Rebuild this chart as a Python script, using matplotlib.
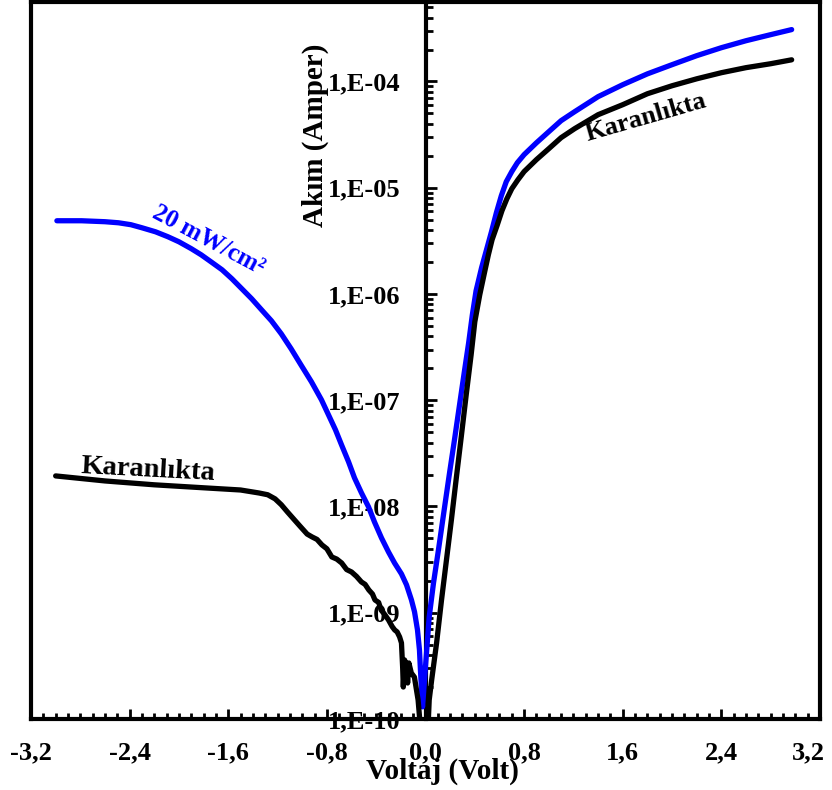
import numpy as np
import matplotlib
matplotlib.use("Agg")
import matplotlib.pyplot as plt
from matplotlib.ticker import FixedLocator, MultipleLocator, LogLocator, NullFormatter
from matplotlib.lines import Line2D
from matplotlib.transforms import ScaledTranslation

# ---------------- data ----------------
# Light (20 mW/cm^2) measurement
v_light = [-2.99, -2.79, -2.60, -2.49, -2.39, -2.30, -2.19, -2.09, -2.00, -1.90,
           -1.82, -1.74, -1.65, -1.57, -1.49, -1.41, -1.33, -1.25, -1.17, -1.09,
           -1.01, -0.925, -0.844, -0.787, -0.730, -0.681, -0.624, -0.576, -0.519,
           -0.462, -0.414, -0.357, -0.300, -0.251, -0.195, -0.154, -0.114, -0.089,
           -0.065, -0.049, -0.041, -0.032, -0.024, -0.01, 0.01, 0.03, 0.065, 0.105,
           0.155, 0.195, 0.235, 0.275, 0.315, 0.35, 0.38, 0.41, 0.455, 0.495,
           0.535, 0.575, 0.615, 0.655, 0.70, 0.745, 0.80, 0.90, 1.0, 1.10, 1.21,
           1.40, 1.60, 1.80, 2.0, 2.2, 2.4, 2.6, 2.8, 2.97]
i_light = [4.89e-6, 4.89e-6, 4.79e-6, 4.68e-6, 4.49e-6, 4.20e-6, 3.85e-6, 3.46e-6,
           3.10e-6, 2.67e-6, 2.34e-6, 2.01e-6, 1.69e-6, 1.39e-6, 1.12e-6, 9.02e-7,
           7.10e-7, 5.60e-7, 4.22e-7, 3.05e-7, 2.15e-7, 1.49e-7, 1.01e-7, 7.29e-8,
           5.26e-8, 3.80e-8, 2.63e-8, 1.86e-8, 1.34e-8, 9.91e-9, 7.16e-9, 5.06e-9,
           3.73e-9, 2.94e-9, 2.32e-9, 1.83e-9, 1.32e-9, 1.02e-9, 6.89e-10,
           4.47e-10, 2.89e-10, 1.88e-10, 1.30e-10, 2.18e-10, 4.47e-10, 9.13e-10,
           1.91e-9, 3.90e-9, 9.91e-9, 2.07e-8, 4.24e-8, 8.86e-8, 1.85e-7, 3.47e-7,
           6.37e-7, 1.07e-6, 1.77e-6, 2.61e-6, 3.85e-6, 5.82e-6, 8.41e-6, 1.14e-5,
           1.42e-5, 1.72e-5, 2.05e-5, 2.65e-5, 3.37e-5, 4.28e-5, 5.20e-5, 7.20e-5,
           9.33e-5, 1.18e-4, 1.44e-4, 1.75e-4, 2.08e-4, 2.42e-4, 2.76e-4, 3.08e-4]

# Dark (Karanlıkta) measurement
v_dark = [-3.0, -2.6, -2.2, -1.8, -1.5, -1.35, -1.28, -1.22, -1.17, -1.12, -1.07,
          -1.02, -0.96, -0.92, -0.88, -0.84, -0.80, -0.76, -0.72, -0.68, -0.64,
          -0.60, -0.56, -0.52, -0.49, -0.46, -0.43, -0.41, -0.38, -0.36, -0.33,
          -0.30, -0.27, -0.25, -0.23, -0.21, -0.195, -0.185, -0.18, -0.17,
          -0.155, -0.145, -0.135, -0.115, -0.09, -0.06, -0.04, 0.0, 0.02, 0.03,
          0.05, 0.09, 0.13, 0.17, 0.21, 0.25, 0.29, 0.33, 0.37, 0.40, 0.44,
          0.48, 0.51, 0.54, 0.58, 0.62, 0.66, 0.70, 0.75, 0.80, 0.90, 1.0, 1.10,
          1.21, 1.40, 1.60, 1.80, 2.0, 2.2, 2.4, 2.6, 2.8, 2.97]
i_dark = [1.94e-8, 1.74e-8, 1.60e-8, 1.50e-8, 1.43e-8, 1.34e-8, 1.29e-8, 1.18e-8,
          1.04e-8, 8.89e-9, 7.64e-9, 6.57e-9, 5.5e-9, 5.17e-9, 4.9e-9, 4.35e-9,
          4.0e-9, 3.35e-9, 3.2e-9, 2.94e-9, 2.55e-9, 2.42e-9, 2.2e-9, 1.95e-9,
          1.85e-9, 1.64e-9, 1.5e-9, 1.32e-9, 1.25e-9, 1.06e-9, 9.6e-10, 8.55e-10,
          7.4e-10, 6.89e-10, 6.6e-10, 5.92e-10, 5.2e-10, 3.0e-10, 2.0e-10,
          3.6e-10, 3.22e-10, 2.18e-10, 3.37e-10, 2.71e-10, 2.48e-10, 1.51e-10,
          8.0e-11, 8.0e-11, 8.0e-11, 1.51e-10, 2.33e-10, 5.20e-10, 1.32e-9,
          3.14e-9, 7.48e-9, 1.86e-8, 4.52e-8, 1.12e-7, 2.67e-7, 5.47e-7, 9.82e-7,
          1.62e-6, 2.34e-6, 3.24e-6, 4.39e-6, 6.07e-6, 7.87e-6, 9.79e-6, 1.19e-5,
          1.42e-5, 1.84e-5, 2.33e-5, 2.96e-5, 3.60e-5, 4.87e-5, 6.05e-5, 7.67e-5,
          9.12e-5, 1.06e-4, 1.21e-4, 1.35e-4, 1.47e-4, 1.60e-4]

xticks = [-3.2, -2.4, -1.6, -0.8, 0.0, 0.8, 1.6, 2.4, 3.2]
xtick_labels = ["-3,2", "-2,4", "-1,6", "-0,8", "0,0", "0,8", "1,6", "2,4", "3,2"]
yticks = [1e-10, 1e-9, 1e-8, 1e-7, 1e-6, 1e-5, 1e-4]
ytick_labels = ["1,E-10", "1,E-09", "1,E-08", "1,E-07", "1,E-06", "1,E-05", "1,E-04"]

# ---------------- plot ----------------
plt.rcParams['font.family'] = ['Liberation Serif', 'DejaVu Serif']
plt.rcParams['font.weight'] = 'bold'

fig = plt.figure(figsize=(8.32, 7.9), dpi=100)
ax = fig.add_axes([31 / 832, 1 - 719 / 790, 789 / 832, 717 / 790])

ax.plot(v_light, i_light, color='#0000FF', lw=3.8, solid_capstyle='round',
        solid_joinstyle='round', zorder=3)
ax.plot(v_dark, i_dark, color='black', lw=3.8, solid_capstyle='round',
        solid_joinstyle='round', zorder=4)

ax.set_yscale('log')
ax.set_xlim(-3.2, 3.2)
ax.set_ylim(1e-10, 5.6e-4)

# spines
for s in ax.spines.values():
    s.set_linewidth(3)
ax.spines['left'].set_position(('data', 0))
ax.add_line(Line2D([0, 0], [0, 1], transform=ax.transAxes, color='black',
                   lw=3, clip_on=False, solid_capstyle='projecting'))

# x ticks
ax.xaxis.set_major_locator(FixedLocator(xticks))
ax.set_xticklabels(xtick_labels)
ax.xaxis.set_minor_locator(MultipleLocator(0.1))
ax.tick_params(axis='x', which='major', direction='in', length=7, width=2,
               pad=16, labelsize=19, top=False)
ax.tick_params(axis='x', which='minor', direction='in', length=4, width=2, top=False)

# y ticks
ax.yaxis.set_major_locator(FixedLocator(yticks))
ax.set_yticklabels(ytick_labels)
ax.yaxis.set_minor_locator(LogLocator(base=10, subs=np.arange(2, 10)))
ax.yaxis.set_minor_formatter(NullFormatter())
ax.tick_params(axis='y', which='major', direction='in', length=8, width=2,
               pad=18, labelsize=19, right=False)
ax.tick_params(axis='y', which='minor', direction='in', length=5, width=2, right=False)

for lab in ax.get_xticklabels() + ax.get_yticklabels():
    lab.set_fontweight('bold')

# keep the last x label inside the figure
last = ax.get_xticklabels()[-1]
last.set_transform(last.get_transform() + ScaledTranslation(-0.12, 0, fig.dpi_scale_trans))

# axis titles
fig.text(315 / 832, 1 - 135 / 790, "Akım (Amper)", rotation=90, ha='center',
         va='center', fontsize=21, fontweight='bold')
fig.text(442 / 832, 1 - 771 / 790, "Voltaj (Volt)", ha='center', va='center',
         fontsize=21, fontweight='bold')

# annotations
ax.text(-1.76, 3.2e-6, "20 mW/cm²", color='#0000FF', fontsize=18, fontweight='bold',
        rotation=-28, ha='center', va='center')
ax.text(-2.25, 2.2e-8, "Karanlıkta", color='black', fontsize=20.5, fontweight='bold',
        rotation=-3, ha='center', va='center')
ax.text(1.79, 4.56e-5, "Karanlıkta", color='black', fontsize=19, fontweight='bold',
        rotation=16, ha='center', va='center')

fig.savefig("out.png", dpi=100)
